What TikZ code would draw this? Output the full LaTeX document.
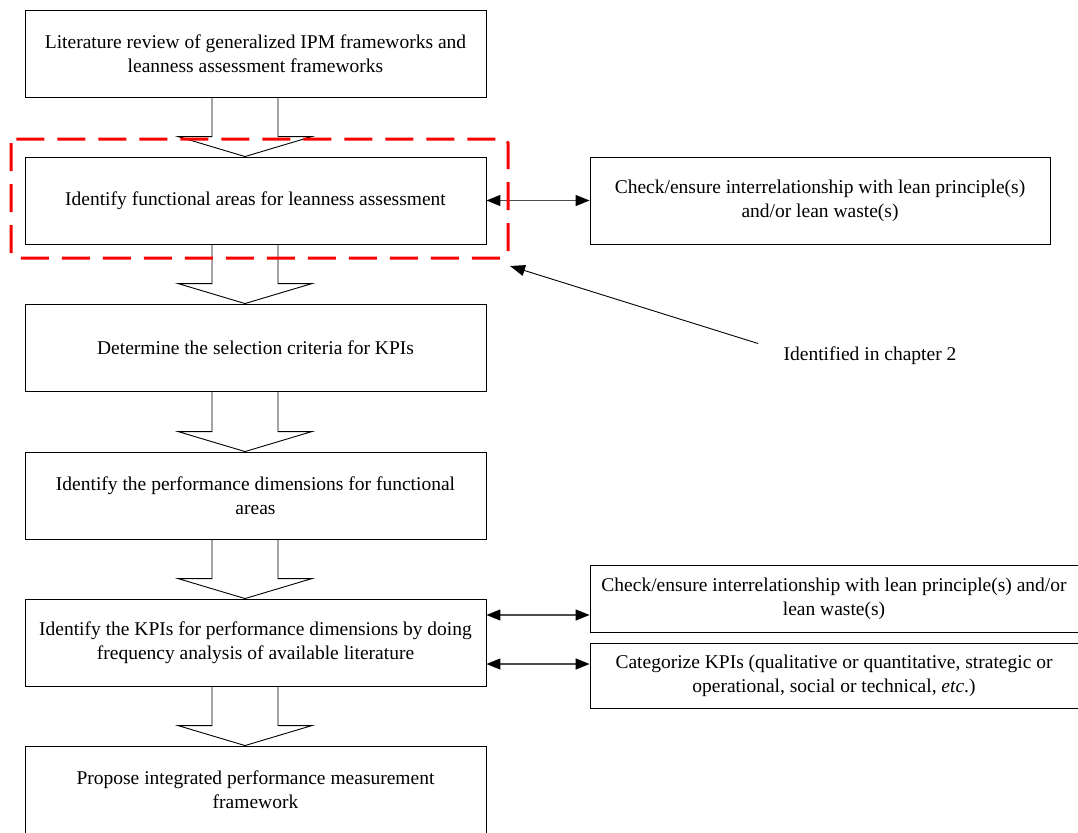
\documentclass[tikz,border=0pt]{standalone}
\usepackage{fontspec}
\setmainfont{Liberation Serif}
\usetikzlibrary{arrows.meta,calc}
\tikzset{
  stepbox/.style={draw, line width=0.9pt, minimum width=461pt, minimum height=87pt, align=center, inner sep=0pt},
  sidebox/.style={draw, line width=0.9pt, align=center, inner sep=0pt},
  link/.style={{Triangle[length=14pt,width=11pt,color=black]}-{Triangle[length=14pt,width=11pt,color=black]}, line width=1.3pt, black!70},
  bigarrow/.style={draw, line width=0.9pt},
  focus/.style={draw=red, line width=3pt, dash pattern=on 28pt off 13pt, rounded corners=4pt}
}
% hollow block arrow from the bottom of #1 to the top of #2
\newcommand{\bigarr}[2]{%
  \draw[bigarrow] ($(#1.south)+(-43.5,0)$) -- ($(#2.north)+(-43.5,-20)$) -- ($(#2.north)+(-77.5,-20)$)
    -- ($(#2.north)+(-10.5,0)$) -- ($(#2.north)+(56.5,-20)$) -- ($(#2.north)+(22.5,-20)$) -- ($(#1.south)+(22.5,0)$);}
\begin{document}
\begin{tikzpicture}[x=1pt,y=-1pt,font=\fontsize{19.5}{24}\selectfont]
\useasboundingbox (0,0) rectangle (1078,832);
% main column
\node[stepbox] (lit) at (255.5,53.5) {Literature review of generalized IPM frameworks and\\leanness assessment frameworks};
\node[stepbox] (areas) at (255.5,200.5) {Identify functional areas for leanness assessment};
\node[stepbox] (crit) at (255.5,347.5) {Determine the selection criteria for KPIs};
\node[stepbox] (dims) at (255.5,495.5) {Identify the performance dimensions for functional\\areas};
\node[stepbox] (kpis) at (255.5,642.5) {Identify the KPIs for performance dimensions by doing\\frequency analysis of available literature};
\node[stepbox] (frame) at (255.5,789.5) {Propose integrated performance measurement\\framework};
\bigarr{lit}{areas}
\bigarr{areas}{crit}
\bigarr{crit}{dims}
\bigarr{dims}{kpis}
\bigarr{kpis}{frame}
% side boxes
\node[sidebox, minimum width=460pt, minimum height=87pt] (check1) at (820,200.5) {Check/ensure interrelationship with lean principle(s)\\and/or lean waste(s)};
\node[sidebox, minimum width=488pt, minimum height=67pt] (check2) at (834,598.5) {Check/ensure interrelationship with lean principle(s) and/or\\lean waste(s)};
\node[sidebox, minimum width=488pt, minimum height=65pt] (cat) at (834,675.5) {Categorize KPIs (qualitative or quantitative, strategic or\\operational, social or technical, \textit{etc}.)};
\draw[link] (areas.east) -- (check1.west);
\draw[link] ($(kpis.east)+(0,-27.5)$) -- (check2.west |- {$(kpis.east)+(0,-27.5)$});
\draw[link] ($(kpis.east)+(0,21.5)$) -- (cat.west |- {$(kpis.east)+(0,21.5)$});
% highlighted step
\draw[focus] (11,139) rectangle (508,258);
\node (note) at (870,356) {Identified in chapter 2};
\coordinate (tip) at (510,266);
\draw[-{Triangle[length=15pt,width=11pt]}, line width=0.9pt] ($(note.north west)+(-22,0)$) -- (tip);
\end{tikzpicture}
\end{document}
